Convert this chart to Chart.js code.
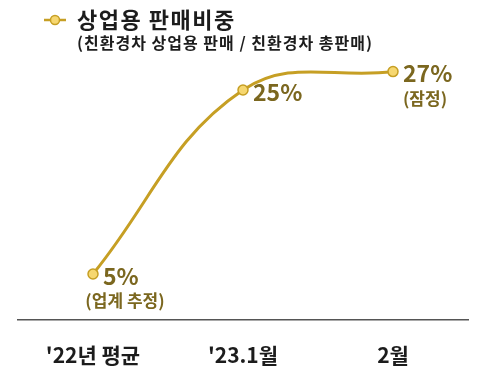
<!DOCTYPE html>
<html>
<head>
<meta charset="utf-8">
<script src="https://cdn.jsdelivr.net/npm/chart.js@4"></script>
<style>
  html, body { margin: 0; padding: 0; background: #fff; }
  #wrap { width: 486px; height: 373px; position: relative; }
</style>
</head>
<body>
<div id="wrap"><canvas id="share-chart"></canvas></div>
<script>
const categories = ["'22년 평균", "'23.1월", "2월"];
const shareValues = [5, 25, 27];
const valueLabels = ["5%", "25%", "27%"];
const noteLabels = ["(업계 추정)", "", "(잠정)"];
const seriesName = "상업용 판매비중";
const seriesNote = "(친환경차 상업용 판매 / 친환경차 총판매)";

const gold = "#C69F24";
const pointFill = "#F6D770";
const labelColor = "#7B671F";
const font = "'Noto Sans CJK KR', 'Noto Sans', sans-serif";

// legend at top left: line + circle marker, title and note
const legendPlugin = {
    id: "legendBox",
    afterDraw(chart) {
        const ctx = chart.ctx;
        ctx.save();
        ctx.strokeStyle = gold;
        ctx.lineWidth = 2.5;
        ctx.beginPath();
        ctx.moveTo(44, 20);
        ctx.lineTo(66, 20);
        ctx.stroke();
        ctx.beginPath();
        ctx.arc(55, 20, 4.5, 0, Math.PI * 2);
        ctx.fillStyle = pointFill;
        ctx.fill();
        ctx.lineWidth = 1.5;
        ctx.stroke();

        ctx.fillStyle = "#1c1c1c";
        ctx.textBaseline = "middle";
        ctx.font = "bold 22px " + font;
        ctx.letterSpacing = "1.5px";
        ctx.fillText(seriesName, 77, 20);
        ctx.font = "bold 16px " + font;
        ctx.letterSpacing = "1px";
        ctx.fillText(seriesNote, 77, 43);
        ctx.restore();
    }
};

// value labels next to each point
const valuePlugin = {
    id: "valueLabels",
    afterDatasetsDraw(chart) {
        const ctx = chart.ctx;
        const pts = chart.getDatasetMeta(0).data;
        ctx.save();
        ctx.fillStyle = labelColor;
        ctx.textBaseline = "middle";
        pts.forEach((p, i) => {
            ctx.textAlign = "left";
            ctx.font = "bold 23px " + font;
            ctx.fillText(valueLabels[i], p.x + 10, p.y + 2);
            if (noteLabels[i]) {
                ctx.textAlign = "center";
                ctx.font = "bold 17px " + font;
                ctx.fillText(noteLabels[i], p.x + 32, p.y + 27);
            }
        });
        ctx.restore();
    }
};

new Chart(document.getElementById("share-chart"), {
    type: "line",
    data: {
        labels: categories,
        datasets: [{
            label: seriesName,
            data: shareValues,
            borderColor: gold,
            borderWidth: 3,
            tension: 0.4,
            pointRadius: 5,
            pointBackgroundColor: pointFill,
            pointBorderColor: gold,
            pointBorderWidth: 1.5,
            fill: false
        }]
    },
    options: {
        responsive: true,
        maintainAspectRatio: false,
        animation: false,
        layout: { padding: { top: 44, left: 18, right: 18, bottom: 0 } },
        scales: {
            x: {
                offset: true,
                grid: { display: false },
                border: { display: true, color: "#555", width: 1.5 },
                ticks: {
                    color: "#1c1c1c",
                    padding: 14,
                    font: { family: font, size: 21, weight: "bold" }
                },
                afterFit(scale) { scale.height = 53; }
            },
            y: {
                display: false,
                min: 0,
                max: 30
            }
        },
        plugins: {
            legend: { display: false },
            tooltip: { enabled: false }
        }
    },
    plugins: [legendPlugin, valuePlugin]
});
</script>
</body>
</html>
